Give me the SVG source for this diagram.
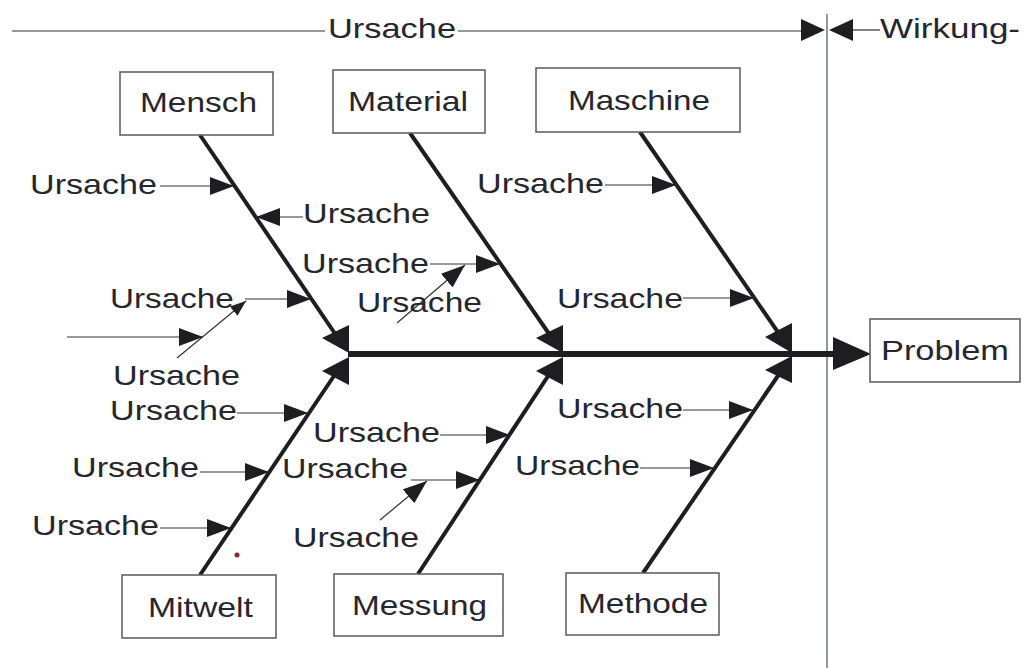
<svg xmlns="http://www.w3.org/2000/svg" width="1029" height="668" viewBox="0 0 1029 668">
  <style>
    .lbl { font-family: "Liberation Sans", Arial, sans-serif; font-size: 28px; fill: #26262e; }
    .box { fill: #ffffff; stroke: #5a5a5a; stroke-width: 1.5; }
    .bone { stroke: #1e1e22; stroke-width: 4; fill: none; }
    .thin { stroke: #333; stroke-width: 1.2; fill: none; }
    .head { fill: #1e1e22; }
  </style>
  <defs>
    <marker id="tip" viewBox="0 0 24 18" refX="24" refY="9" markerWidth="24" markerHeight="18" markerUnits="userSpaceOnUse" orient="auto">
      <path d="M0,0 L24,9 L0,18 Z" fill="#1e1e22"/>
    </marker>
    <marker id="tipSmall" viewBox="0 0 16 12" refX="16" refY="6" markerWidth="16" markerHeight="12" markerUnits="userSpaceOnUse" orient="auto">
      <path d="M0,0 L16,6 L0,12 Z" fill="#1e1e22"/>
    </marker>
  </defs>

  <rect width="1029" height="668" fill="#ffffff"/>

  <!-- header: cause / effect ruler -->
  <g id="header">
    <line x1="12" y1="31" x2="325" y2="31" class="thin"/>
    <line x1="458" y1="31" x2="803" y2="31" class="thin"/>
    <polygon points="801,19 825,30 801,41" class="head"/>
    <polygon points="853,19 829,30 853,41" class="head"/>
    <line x1="853" y1="30" x2="880" y2="30" class="thin"/>
    <text x="328" y="38" class="lbl" textLength="128" lengthAdjust="spacingAndGlyphs">Ursache</text>
    <text x="880" y="38" class="lbl" textLength="140" lengthAdjust="spacingAndGlyphs">Wirkung-</text>
  </g>

  <!-- divider between cause and effect -->
  <line id="divider" x1="827" y1="14" x2="827" y2="668" stroke="#6d7a6d" stroke-width="1.5"/>

  <g id="connectors">
    <!-- main spine -->
    <line x1="348" y1="354" x2="836" y2="354" stroke="#1e1e22" stroke-width="6"/>
    <polygon points="833,337 871,354 833,370" class="head"/>

    <!-- main bones -->
    <line x1="200" y1="135" x2="340" y2="341" class="bone"/>
    <line x1="410" y1="133" x2="554" y2="341" class="bone"/>
    <line x1="640" y1="132" x2="784" y2="341" class="bone"/>
    <line x1="200" y1="575" x2="340" y2="367" class="bone"/>
    <line x1="418" y1="574" x2="554" y2="367" class="bone"/>
    <line x1="643" y1="573" x2="784" y2="367" class="bone"/>

    <!-- bone arrowheads at the spine -->
    <polygon points="322,338 349,325 349,353" class="head"/>
    <polygon points="322,371 349,357 349,385" class="head"/>
    <polygon points="536,338 563,325 563,353" class="head"/>
    <polygon points="536,371 563,357 563,385" class="head"/>
    <polygon points="765,337 792,323 792,353" class="head"/>
    <polygon points="765,370 792,356 792,383" class="head"/>

    <!-- sub-cause arrows -->
    <line x1="160" y1="186" x2="234" y2="186" class="thin" marker-end="url(#tip)"/>
    <line x1="303" y1="217" x2="256" y2="217" class="thin" marker-end="url(#tip)"/>
    <line x1="430" y1="264" x2="500" y2="264" class="thin" marker-end="url(#tip)"/>
    <line x1="397" y1="323" x2="465" y2="265" class="thin" marker-end="url(#tip)"/>
    <line x1="245" y1="299" x2="311" y2="299" class="thin" marker-end="url(#tip)"/>
    <line x1="177" y1="358" x2="246" y2="301" class="thin" marker-end="url(#tipSmall)"/>
    <line x1="67" y1="337" x2="203" y2="337" class="thin" marker-end="url(#tip)"/>
    <line x1="237" y1="413" x2="308" y2="413" class="thin" marker-end="url(#tip)"/>
    <line x1="200" y1="472" x2="269" y2="472" class="thin" marker-end="url(#tip)"/>
    <line x1="160" y1="528" x2="231" y2="528" class="thin" marker-end="url(#tip)"/>
    <line x1="411" y1="480" x2="480" y2="480" class="thin" marker-end="url(#tip)"/>
    <line x1="380" y1="520" x2="427" y2="481" class="thin" marker-end="url(#tip)"/>
    <line x1="440" y1="435" x2="510" y2="435" class="thin" marker-end="url(#tip)"/>
    <line x1="605" y1="185" x2="676" y2="185" class="thin" marker-end="url(#tip)"/>
    <line x1="683" y1="298" x2="754" y2="298" class="thin" marker-end="url(#tip)"/>
    <line x1="683" y1="410" x2="753" y2="410" class="thin" marker-end="url(#tip)"/>
    <line x1="640" y1="468" x2="714" y2="468" class="thin" marker-end="url(#tip)"/>
  </g>

  <!-- sub-cause labels -->
  <g id="causes">
    <text x="30" y="194" class="lbl" textLength="127" lengthAdjust="spacingAndGlyphs">Ursache</text>
    <text x="303" y="223" class="lbl" textLength="127" lengthAdjust="spacingAndGlyphs">Ursache</text>
    <text x="302" y="273" class="lbl" textLength="127" lengthAdjust="spacingAndGlyphs">Ursache</text>
    <text x="357" y="312" class="lbl" textLength="125" lengthAdjust="spacingAndGlyphs">Ursache</text>
    <text x="110" y="308" class="lbl" textLength="133" lengthAdjust="spacingAndGlyphs">Ursache,</text>
    <text x="113" y="385" class="lbl" textLength="127" lengthAdjust="spacingAndGlyphs">Ursache</text>
    <text x="110" y="420" class="lbl" textLength="127" lengthAdjust="spacingAndGlyphs">Ursache</text>
    <text x="72" y="477" class="lbl" textLength="127" lengthAdjust="spacingAndGlyphs">Ursache</text>
    <text x="32" y="535" class="lbl" textLength="127" lengthAdjust="spacingAndGlyphs">Ursache</text>
    <text x="282" y="478" class="lbl" textLength="126" lengthAdjust="spacingAndGlyphs">Ursache</text>
    <text x="293" y="547" class="lbl" textLength="126" lengthAdjust="spacingAndGlyphs">Ursache</text>
    <text x="313" y="442" class="lbl" textLength="127" lengthAdjust="spacingAndGlyphs">Ursache</text>
    <text x="477" y="193" class="lbl" textLength="127" lengthAdjust="spacingAndGlyphs">Ursache</text>
    <text x="557" y="308" class="lbl" textLength="126" lengthAdjust="spacingAndGlyphs">Ursache</text>
    <text x="557" y="418" class="lbl" textLength="126" lengthAdjust="spacingAndGlyphs">Ursache</text>
    <text x="515" y="475" class="lbl" textLength="125" lengthAdjust="spacingAndGlyphs">Ursache</text>
  </g>

  <!-- category nodes -->
  <g id="mensch">
    <rect x="120" y="72" width="153" height="63" class="box"/>
    <text x="140" y="112" class="lbl" textLength="117" lengthAdjust="spacingAndGlyphs">Mensch</text>
  </g>
  <g id="material">
    <rect x="333" y="70" width="152" height="63" class="box"/>
    <text x="348" y="111" class="lbl" textLength="120" lengthAdjust="spacingAndGlyphs">Material</text>
  </g>
  <g id="maschine">
    <rect x="536" y="68" width="204" height="64" class="box"/>
    <text x="568" y="110" class="lbl" textLength="142" lengthAdjust="spacingAndGlyphs">Maschine</text>
  </g>
  <g id="mitwelt">
    <rect x="122" y="575" width="154" height="63" class="box"/>
    <text x="148" y="617" class="lbl" textLength="105" lengthAdjust="spacingAndGlyphs">Mitwelt</text>
  </g>
  <g id="messung">
    <rect x="334" y="574" width="169" height="62" class="box"/>
    <text x="352" y="615" class="lbl" textLength="135" lengthAdjust="spacingAndGlyphs">Messung</text>
  </g>
  <g id="methode">
    <rect x="566" y="573" width="153" height="62" class="box"/>
    <text x="578" y="613" class="lbl" textLength="130" lengthAdjust="spacingAndGlyphs">Methode</text>
  </g>

  <!-- effect node -->
  <g id="problem">
    <rect x="870" y="319" width="150" height="63" class="box"/>
    <text x="881" y="360" class="lbl" textLength="128" lengthAdjust="spacingAndGlyphs">Problem</text>
  </g>

  <circle cx="237" cy="555" r="2.5" fill="#8a2626"/>
</svg>
